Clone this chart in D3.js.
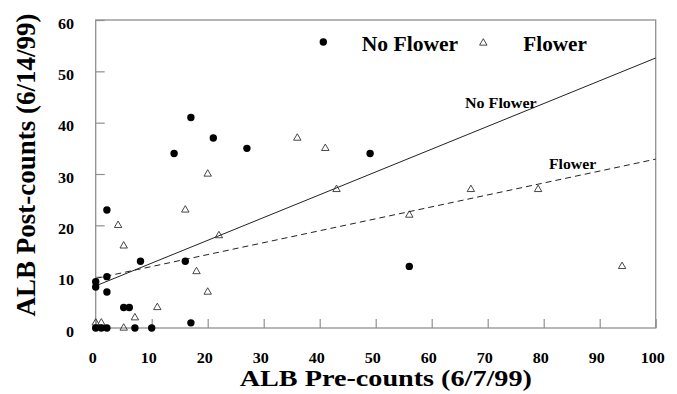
<!DOCTYPE html>
<html>
<head>
<meta charset="utf-8">
<script src="https://cdn.jsdelivr.net/npm/d3@7"></script>
<style>
  html, body { margin: 0; padding: 0; background: #fff; }
  text { font-family: "Liberation Serif", "Times New Roman", serif; font-weight: bold; fill: #000; }
</style>
</head>
<body>
<svg id="chart" width="677" height="394"></svg>
<script>
// ---- data ----
const noFlowerX = [17, 21, 14, 27, 49, 2, 8, 16, 56, 2, 0, 0, 2, 5, 6, 17, 0, 1, 2, 7, 10];
const noFlowerY = [41, 37, 34, 35, 34, 23, 13, 13, 12, 10, 9, 8, 7, 4, 4, 1, 0, 0, 0, 0, 0];
const flowerX = [4, 5, 16, 20, 22, 18, 20, 11, 7, 0, 1, 5, 36, 41, 43, 56, 67, 79, 94];
const flowerY = [20, 16, 23, 30, 18, 11, 7, 4, 2, 1, 1, 0, 37, 35, 27, 22, 27, 27, 12];
// fitted lines: [x, y] endpoints
const noFlowerFitX = [0, 100];
const noFlowerFitY = [8.2, 52.6];
const flowerFitX = [0, 100];
const flowerFitY = [9.65, 32.9];
const xTicks = [0, 10, 20, 30, 40, 50, 60, 70, 80, 90, 100];
const yTicks = [0, 10, 20, 30, 40, 50, 60];
const seriesNames = ["No Flower", "Flower"];
const xTitle = "ALB Pre-counts (6/7/99)";
const yTitle = "ALB Post-counts (6/14/99)";

// ---- layout ----
const svg = d3.select("#chart");
const L = 95.7, R = 655.7, T = 20, B = 328;
const x = d3.scaleLinear().domain([0, 100]).range([L, R]);
const y = d3.scaleLinear().domain([0, 60]).range([B, T]);
const frameColor = "#8f8f8f";

// frame
svg.append("rect").attr("x", L).attr("y", T).attr("width", R - L).attr("height", B - T)
  .attr("fill", "none").attr("stroke", frameColor).attr("stroke-width", 1.3);

// x axis
const tsx = 1.15;
const gx = svg.append("g").attr("transform", `translate(0,${B})`)
  .call(d3.axisBottom(x).tickValues(xTicks).tickSize(-9).tickFormat(d3.format("d")));
gx.select(".domain").remove();
gx.selectAll(".tick line").attr("stroke", frameColor).attr("stroke-width", 1.2);
gx.selectAll(".tick text").attr("dy", null).attr("y", 34.7).attr("x", -3.5 / tsx)
  .attr("transform", `scale(${tsx},1)`)
  .style("font-size", "14px").style("font-family", "'Liberation Serif', serif").style("font-weight", "bold")
  .attr("fill", "#000");

// y axis
const gy = svg.append("g").attr("transform", `translate(${L},0)`)
  .call(d3.axisLeft(y).tickValues(yTicks).tickSize(-9).tickFormat(d3.format("d")));
gy.select(".domain").remove();
gy.selectAll(".tick line").attr("stroke", frameColor).attr("stroke-width", 1.2);
gy.selectAll(".tick text").attr("dy", null).attr("y", 8).attr("x", -21.7 / tsx)
  .attr("text-anchor", "end")
  .attr("transform", `scale(${tsx},1)`)
  .style("font-size", "14px").style("font-family", "'Liberation Serif', serif").style("font-weight", "bold")
  .attr("fill", "#000");

// fitted lines
const line = d3.line().x(d => x(d[0])).y(d => y(d[1]));
svg.append("path").datum(noFlowerFitX.map((v, i) => [v, noFlowerFitY[i]]))
  .attr("d", line).attr("fill", "none").attr("stroke", "#222").attr("stroke-width", 1);
svg.append("path").datum(flowerFitX.map((v, i) => [v, flowerFitY[i]]))
  .attr("d", line).attr("fill", "none").attr("stroke", "#222").attr("stroke-width", 1)
  .attr("stroke-dasharray", "6,4");

// points
const tri = d3.symbol().type(d3.symbolTriangle).size(24);
svg.append("g").selectAll("path").data(flowerX.map((v, i) => [v, flowerY[i]])).join("path")
  .attr("d", tri).attr("transform", d => `translate(${x(d[0])},${y(d[1])})`)
  .attr("fill", "none").attr("stroke", "#333").attr("stroke-width", 0.9);
svg.append("g").selectAll("circle").data(noFlowerX.map((v, i) => [v, noFlowerY[i]])).join("circle")
  .attr("cx", d => x(d[0])).attr("cy", d => y(d[1])).attr("r", 3.7).attr("fill", "#000");

// line labels
svg.append("text").attr("transform", "translate(465,108.3) scale(1.07,1)")
  .style("font-size", "15px").text(seriesNames[0]);
svg.append("text").attr("transform", "translate(549,169.3) scale(1.05,1)")
  .style("font-size", "15px").text(seriesNames[1]);

// legend
svg.append("circle").attr("cx", 323.3).attr("cy", 42).attr("r", 3.7).attr("fill", "#000");
svg.append("text").attr("transform", "translate(361.7,51.3) scale(1.08,1)")
  .style("font-size", "20px").text(seriesNames[0]);
svg.append("path").attr("d", tri).attr("transform", "translate(483.3,43)")
  .attr("fill", "none").attr("stroke", "#333").attr("stroke-width", 0.9);
svg.append("text").attr("transform", "translate(523.3,51.3) scale(1.06,1)")
  .style("font-size", "20px").text(seriesNames[1]);

// axis titles
svg.append("text").attr("transform", "translate(385.8,385.7) scale(1.2,1)")
  .attr("text-anchor", "middle").style("font-size", "23.5px").text(xTitle);
svg.append("text").attr("transform", "translate(35,165) rotate(-90)")
  .attr("text-anchor", "middle").style("font-size", "27px").text(yTitle);
</script>
</body>
</html>
